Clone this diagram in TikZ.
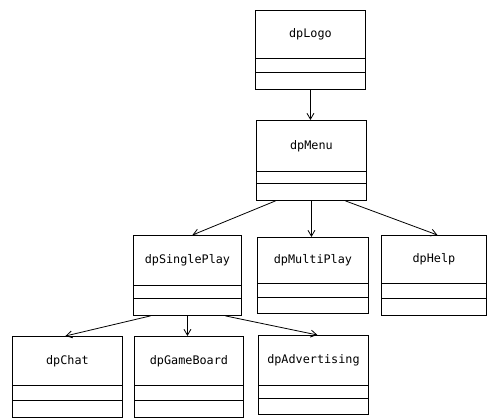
\documentclass[tikz,border=0pt]{standalone}
\usepackage{fontspec}
\setmonofont{DejaVu Sans Mono}
\usetikzlibrary{arrows.meta}
\tikzset{
  part/.style={draw, line width=0.9pt, inner sep=0pt, anchor=north west},
  classname/.style={part, font=\ttfamily\fontsize{11.8}{14}\selectfont},
  link/.style={draw, line width=0.8pt,
    -{Straight Barb[length=6pt,width=7pt,line width=0.8pt]}}
}
% #1 id, #2 left, #3 right, #4 top, #5 first split, #6 second split, #7 bottom, #8 name
\newcommand\classbox[8]{%
  \pgfmathsetmacro\boxw{#3-#2}%
  \pgfmathsetmacro\boxha{#5-#4}%
  \pgfmathsetmacro\boxhb{#6-#5}%
  \pgfmathsetmacro\boxhc{#7-#6}%
  \node[classname, minimum width=\boxw pt, minimum height=\boxha pt] (#1) at (#2,#4) {#8};
  \node[part, minimum width=\boxw pt, minimum height=\boxhb pt] (#1-a) at (#2,#5) {};
  \node[part, minimum width=\boxw pt, minimum height=\boxhc pt] (#1-b) at (#2,#6) {};
}
\begin{document}
\begin{tikzpicture}[x=1pt, y=-1pt]
  \useasboundingbox (0,0) rectangle (487,418);

  \classbox{logo}{255}{365}{10}{58}{72}{89}{dpLogo}
  \classbox{menu}{256}{366}{120}{171}{183}{200}{dpMenu}
  \classbox{single}{133}{241}{235}{285}{298}{315}{dpSinglePlay}
  \classbox{multi}{257}{368}{237}{283}{297}{313}{dpMultiPlay}
  \classbox{help}{381}{486}{235}{283}{298}{315}{dpHelp}
  \classbox{chat}{12}{122}{336}{385}{400}{416.5}{dpChat}
  \classbox{game}{134}{243}{336}{385}{400}{416.5}{dpGameBoard}
  \classbox{adv}{258}{368}{335}{385}{398}{414}{dpAdvertising}

  \draw[link] (logo-b.south) -- (logo-b.south |- menu.north);
  \draw[link] ([xshift=-36pt]menu-b.south) -- ([xshift=5pt]single.north);
  \draw[link] (menu-b.south) -- (menu-b.south |- multi.north);
  \draw[link] ([xshift=34pt]menu-b.south) -- ([xshift=3.5pt]help.north);
  \draw[link] ([xshift=-37pt]single-b.south) -- ([xshift=-2pt]chat.north);
  \draw[link] (single-b.south) -- (single-b.south |- game.north);
  \draw[link] ([xshift=38pt]single-b.south) -- ([xshift=4pt]adv.north);
\end{tikzpicture}
\end{document}
